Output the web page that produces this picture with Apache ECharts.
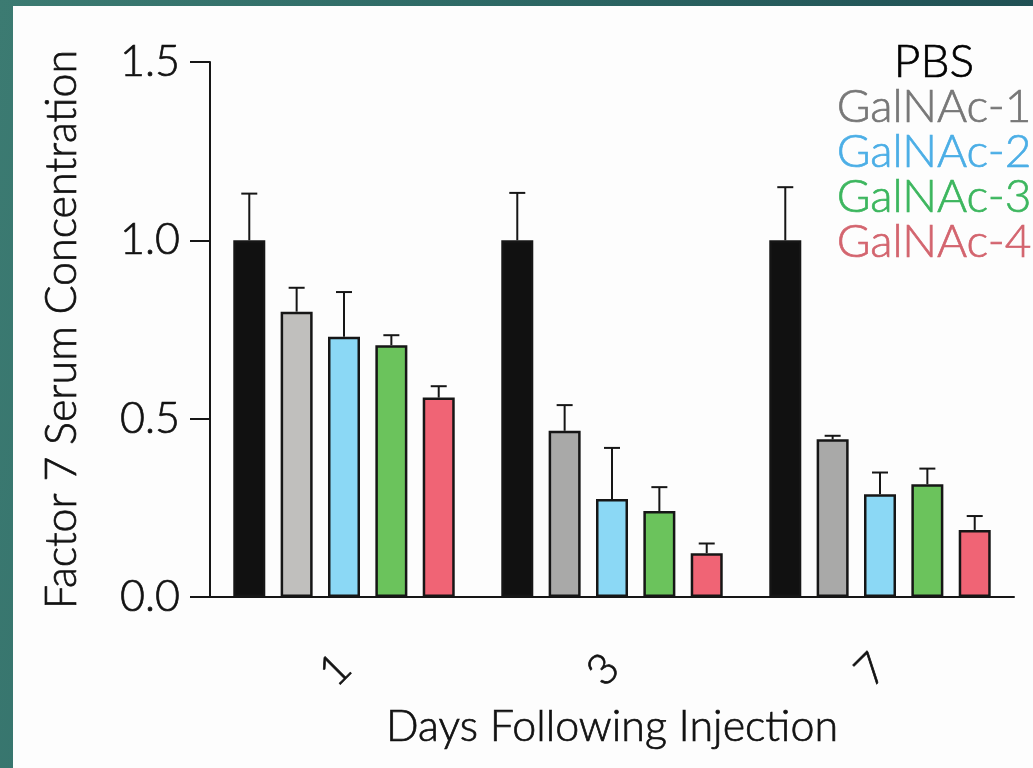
<!DOCTYPE html>
<html>
<head>
<meta charset="utf-8">
<script src="https://cdn.jsdelivr.net/npm/echarts@6/dist/echarts.min.js"></script>
<style>
  html, body { margin: 0; padding: 0; }
  body {
    width: 1033px; height: 768px; overflow: hidden; position: relative;
    background: linear-gradient(100deg, #3c7b72 0%, #2e6a66 40%, #1d4a50 100%);
  }
  #panel {
    position: absolute; left: 13px; top: 6px; right: 0; bottom: 0;
    background: #fdfdfd;
  }
  #chart { position: absolute; left: 0; top: 0; width: 1033px; height: 768px; }
</style>
</head>
<body>
<div id="panel"></div>
<div id="chart"></div>
<script>
// Days after injection (x categories)
const days = ['1', '3', '7'];
// Treatment groups
const groups = ['PBS', 'GalNAc-1', 'GalNAc-2', 'GalNAc-3', 'GalNAc-4'];
// Mean relative Factor 7 serum concentration per group, per day
const pbs      = [1.00, 1.00, 1.00];
const galnac1  = [0.80, 0.466, 0.442];
const galnac2  = [0.730, 0.275, 0.288];
const galnac3  = [0.706, 0.241, 0.316];
const galnac4  = [0.559, 0.123, 0.188];
// Upper end of the error bar (mean + SD) per group, per day
const pbsErr     = [1.131, 1.133, 1.149];
const galnac1Err = [0.867, 0.538, 0.452];
const galnac2Err = [0.855, 0.418, 0.349];
const galnac3Err = [0.734, 0.308, 0.360];
const galnac4Err = [0.591, 0.150, 0.227];
// Y axis ticks
const yTicks = [0.0, 0.5, 1.0, 1.5];

const means = [pbs, galnac1, galnac2, galnac3, galnac4];
const errs  = [pbsErr, galnac1Err, galnac2Err, galnac3Err, galnac4Err];

// Styling
const FONT = 'Lato, "Noto Sans", sans-serif';
const FS = 43;
const WEIGHT = 300;
const INK = '#161616';
const fills = [
  ['#111111', '#111111', '#111111'],
  ['#c0bfbd', '#a9a9a8', '#a9a9a8'],
  ['#8bd8f5', '#8bd8f5', '#8bd8f5'],
  ['#6bc35c', '#6bc35c', '#6bc35c'],
  ['#f06475', '#f06475', '#f06475']
];
const legendColors = ['#000000', '#777777', '#4baee6', '#3cb65e', '#d3646e'];
const BAR_W = 32;
const BAR_GAP = 0.48;           // fraction of bar width
const PITCH = BAR_W * (1 + BAR_GAP);

const chart = echarts.init(document.getElementById('chart'), null, { renderer: 'canvas' });

const series = [];
groups.forEach((name, g) => {
  series.push({
    name: name,
    type: 'bar',
    barWidth: BAR_W,
    barGap: (BAR_GAP * 100) + '%',
    z: 2,
    itemStyle: { borderColor: INK, borderWidth: 2.5 },
    data: means[g].map((v, i) => ({ value: v, itemStyle: { color: fills[g][i] } })),
    silent: true
  });
});
// Error bars drawn above each bar (upper whisker with cap)
groups.forEach((name, g) => {
  series.push({
    name: name + ' SD',
    type: 'custom',
    z: 1,
    silent: true,
    data: days.map((d, i) => [i, means[g][i], errs[g][i]]),
    renderItem: (params, api) => {
      const base = api.coord([api.value(0), api.value(1)]);
      const top = api.coord([api.value(0), api.value(2)]);
      const x = base[0] + (g - (groups.length - 1) / 2) * PITCH;
      const cap = 8;
      return {
        type: 'group',
        children: [
          { type: 'line', shape: { x1: x, y1: base[1], x2: x, y2: top[1] },
            style: { stroke: INK, lineWidth: 2 } },
          { type: 'line', shape: { x1: x - cap, y1: top[1], x2: x + cap, y2: top[1] },
            style: { stroke: INK, lineWidth: 2 } }
        ]
      };
    }
  });
});

const legendTexts = groups.map((name, g) => ({
  type: 'text',
  x: 934,
  y: 62 + g * 45,
  style: {
    text: name,
    fill: legendColors[g],
    stroke: legendColors[g],
    lineWidth: 0.7,
    font: WEIGHT + ' 46px ' + FONT,
    textAlign: 'center',
    textVerticalAlign: 'middle'
  }
}));

const textStyle = {
  fontFamily: FONT, fontSize: FS, fontWeight: WEIGHT, color: '#111',
  textBorderColor: '#111', textBorderWidth: 0.7
};

chart.setOption({
  animation: false,
  backgroundColor: 'transparent',
  grid: { left: 210, right: 19, top: 62, bottom: 171, containLabel: false },
  xAxis: {
    type: 'category',
    data: days,
    name: 'Days Following Injection',
    nameLocation: 'middle',
    nameGap: 109,
    nameTextStyle: textStyle,
    axisLine: { lineStyle: { color: INK, width: 2 } },
    axisTick: { alignWithLabel: true, length: 18, lineStyle: { color: INK, width: 2 } },
    axisLabel: Object.assign({ rotate: 45, margin: 64 }, textStyle)
  },
  yAxis: {
    type: 'value',
    min: yTicks[0],
    max: yTicks[yTicks.length - 1],
    interval: yTicks[1] - yTicks[0],
    name: 'Factor 7 Serum Concentration',
    nameLocation: 'middle',
    nameGap: 126,
    nameRotate: 90,
    nameTextStyle: textStyle,
    axisLine: { show: true, lineStyle: { color: INK, width: 2 } },
    axisTick: { show: true, length: 20, lineStyle: { color: INK, width: 2 } },
    axisLabel: Object.assign({ margin: 30, formatter: v => v.toFixed(1) }, textStyle),
    splitLine: { show: false }
  },
  graphic: legendTexts,
  series: series
});
</script>
</body>
</html>
